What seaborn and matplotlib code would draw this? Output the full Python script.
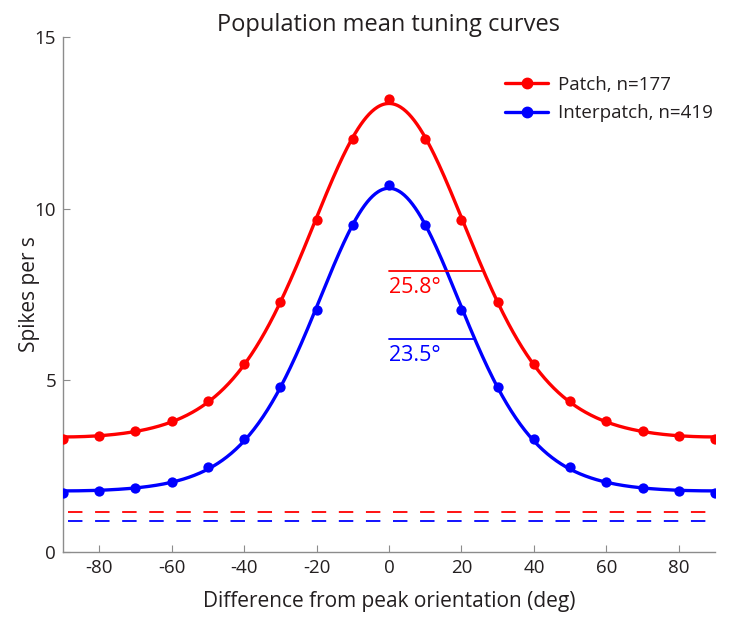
import numpy as np
import pandas as pd
import matplotlib
matplotlib.use("Agg")
import matplotlib.pyplot as plt
from matplotlib.lines import Line2D
import seaborn as sns

sns.set_theme(style="ticks")
plt.rcParams["font.family"] = ["Open Sans", "DejaVu Sans"]
plt.rcParams["axes.unicode_minus"] = False

# Values
orientation = [-90, -80, -70, -60, -50, -40, -30, -20, -10, 0, 10, 20, 30, 40, 50, 60, 70, 80, 90]
patch_rate = [3.29, 3.38, 3.52, 3.82, 4.40, 5.48, 7.28, 9.68, 12.03, 13.20,
              12.03, 9.68, 7.28, 5.48, 4.40, 3.82, 3.52, 3.38, 3.29]
interpatch_rate = [1.72, 1.78, 1.86, 2.04, 2.48, 3.29, 4.80, 7.05, 9.52, 10.69,
                   9.52, 7.05, 4.80, 3.29, 2.48, 2.04, 1.86, 1.78, 1.72]
spont_rate = [1.17, 0.90]          # dashed baselines
half_width = [25.8, 23.5]          # deg
half_height = [8.19, 6.20]         # spikes/s
series_names = ["Patch, n=177", "Interpatch, n=419"]
series_colors = ["#ff0000", "#0000ff"]

TEXT = "#231f20"


def vonmises_fit(x, y):
    # least squares fit of b + A*exp(k*(cos(2x)-1)) to the read points
    x = np.deg2rad(np.asarray(x, float))
    y = np.asarray(y, float)
    best = None
    for k in np.arange(0.2, 6.0, 0.01):
        basis = np.column_stack([np.ones_like(x), np.exp(k * (np.cos(2 * x) - 1))])
        coef, _, _, _ = np.linalg.lstsq(basis, y, rcond=None)
        err = np.sum((basis @ coef - y) ** 2)
        if best is None or err < best[0]:
            best = (err, k, coef)
    _, k, (b, a) = best
    xf = np.arange(-90, 90.25, 0.25)
    return xf, b + a * np.exp(k * (np.cos(2 * np.deg2rad(xf)) - 1))


fig = plt.figure(figsize=(7.29, 6.22), dpi=100)
ax = fig.add_axes([0.0864, 0.1125, 0.8944, 0.828])

rates = [patch_rate, interpatch_rate]
for name, rate, color in zip(series_names, rates, series_colors):
    xf, yf = vonmises_fit(orientation, rate)
    sns.lineplot(x=xf, y=yf, color=color, lw=2.4, ax=ax, legend=False)
    df = pd.DataFrame({"x": orientation, "y": rate})
    sns.scatterplot(data=df, x="x", y="y", color=color, s=55, edgecolor=color,
                    linewidth=0, ax=ax, legend=False, zorder=3)

# spontaneous baselines
for base, color in zip(spont_rate, series_colors):
    ax.plot([-88.5, 88.5], [base, base], color=color, lw=1.3, ls=(0, (8, 7)))

# half width at half height markers
for hw, hh, color in zip(half_width, half_height, series_colors):
    ax.plot([0, hw], [hh, hh], color=color, lw=1.3)
    ax.text(0, hh - 0.17, f"{hw}°", color=color, fontsize=15.5, ha="left", va="top")

handles = [Line2D([], [], color=c, lw=2.4, marker="o", markersize=7.5) for c in series_colors]
leg = ax.legend(handles, series_names, loc="upper right", frameon=False, fontsize=13.5,
                handlelength=2.3, handletextpad=0.5, labelspacing=0.55,
                bbox_to_anchor=(1.022, 0.957), labelcolor=TEXT)

ax.set_xlim(-90, 90)
ax.set_ylim(0, 15)
ax.set_xticks(np.arange(-80, 81, 20))
ax.set_yticks([0, 5, 10, 15])
ax.tick_params(direction="in", length=5, width=0.8, color="#8c8c8c",
               labelsize=13.5, labelcolor=TEXT, pad=5)
sns.despine(ax=ax)
for side in ["left", "bottom"]:
    ax.spines[side].set_color("#8c8c8c")
    ax.spines[side].set_linewidth(1.0)

ax.set_xlabel("Difference from peak orientation (deg)", fontsize=15, color=TEXT, labelpad=10)
ax.set_ylabel("Spikes per s", fontsize=15, color=TEXT)
ax.yaxis.set_label_coords(-0.036, 0.5)
ax.set_title("Population mean tuning curves", fontsize=17, color=TEXT, pad=4)

fig.savefig("out.png", dpi=100)
